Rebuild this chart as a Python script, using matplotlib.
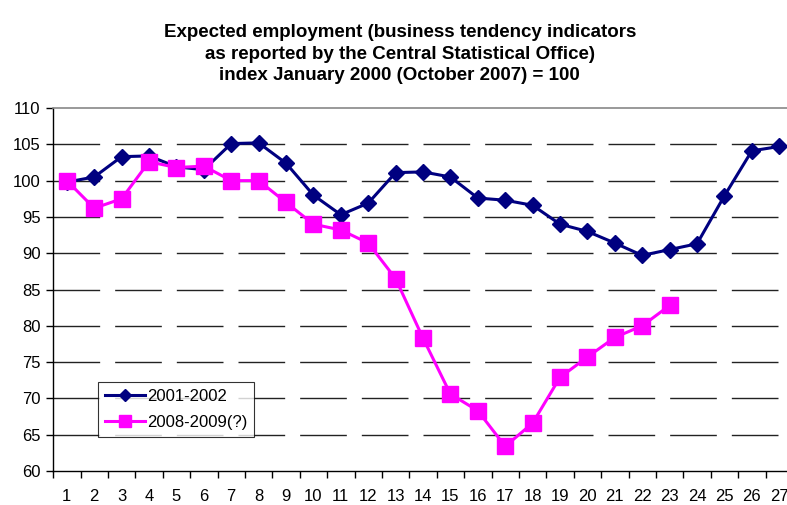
import numpy as np
import matplotlib.pyplot as plt
from matplotlib.ticker import FixedLocator

plt.rcParams['font.family'] = ['Liberation Sans', 'DejaVu Sans']

# months since start of period
months = list(range(1, 28))

# 2001-2002, index January 2000 = 100
emp_2001 = [99.8, 100.5, 103.3, 103.4, 101.9, 101.5, 105.1, 105.2, 102.4, 98.0,
            95.3, 96.9, 101.1, 101.2, 100.5, 97.6, 97.3, 96.6, 94.0, 93.0,
            91.4, 89.7, 90.5, 91.3, 97.9, 104.1, 104.7]

# 2008-2009, index October 2007 = 100
emp_2008 = [100.0, 96.2, 97.5, 102.6, 101.8, 102.0, 100.0, 100.0, 97.0, 94.0,
            93.2, 91.4, 86.5, 78.3, 70.6, 68.3, 63.4, 66.6, 72.9, 75.7,
            78.4, 80.0, 82.8]

y_ticks = list(range(60, 111, 5))

fig = plt.figure(figsize=(7.87, 5.05), dpi=100)
ax = fig.add_axes([0.0675, 0.0673, 0.940, 0.7188])

# dashed horizontal grid like the original
for yv in y_ticks[1:-1]:
    ax.axhline(yv, color='#222222', lw=1, linestyle=(0, (33.6, 10.8)), zorder=1)

ax.plot(months, emp_2001, color='#000080', lw=2.2, marker='D', ms=8.5,
        label='2001-2002', zorder=3)
ax.plot(months[:len(emp_2008)], emp_2008, color='#FF00FF', lw=2.2, marker='s',
        ms=11, label='2008-2009(?)', zorder=4)

ax.set_xlim(0.5, 27.5)
ax.set_ylim(60, 110)
ax.set_yticks(y_ticks)
ax.set_xticks(months)
ax.xaxis.set_minor_locator(FixedLocator(np.arange(0.5, 28, 1)))
ax.tick_params(axis='x', which='major', length=0, pad=13, labelsize=12)
ax.tick_params(axis='x', which='minor', length=5, direction='out', width=1)
ax.tick_params(axis='y', length=5, direction='out', width=1, labelsize=12, pad=4)

ax.spines['right'].set_visible(False)
ax.spines['top'].set_color('#888888')
ax.spines['top'].set_linewidth(1.2)
ax.spines['left'].set_linewidth(1)
ax.spines['bottom'].set_linewidth(1)

leg = ax.legend(loc='lower left', bbox_to_anchor=(0.061, 0.094), fontsize=12,
                frameon=True, fancybox=False, edgecolor='black', markerscale=0.75,
                handlelength=2.4, handletextpad=0.15, borderpad=0.4,
                labelspacing=0.7, borderaxespad=0)
leg.get_frame().set_linewidth(0.8)

fig.text(0.508, 0.893, 'Expected employment (business tendency indicators\n'
         'as reported by the Central Statistical Office)\n'
         'index January 2000 (October 2007) = 100',
         ha='center', va='center', fontsize=13.5, fontweight='bold', linespacing=1.35)

fig.savefig('out.png', dpi=100)
